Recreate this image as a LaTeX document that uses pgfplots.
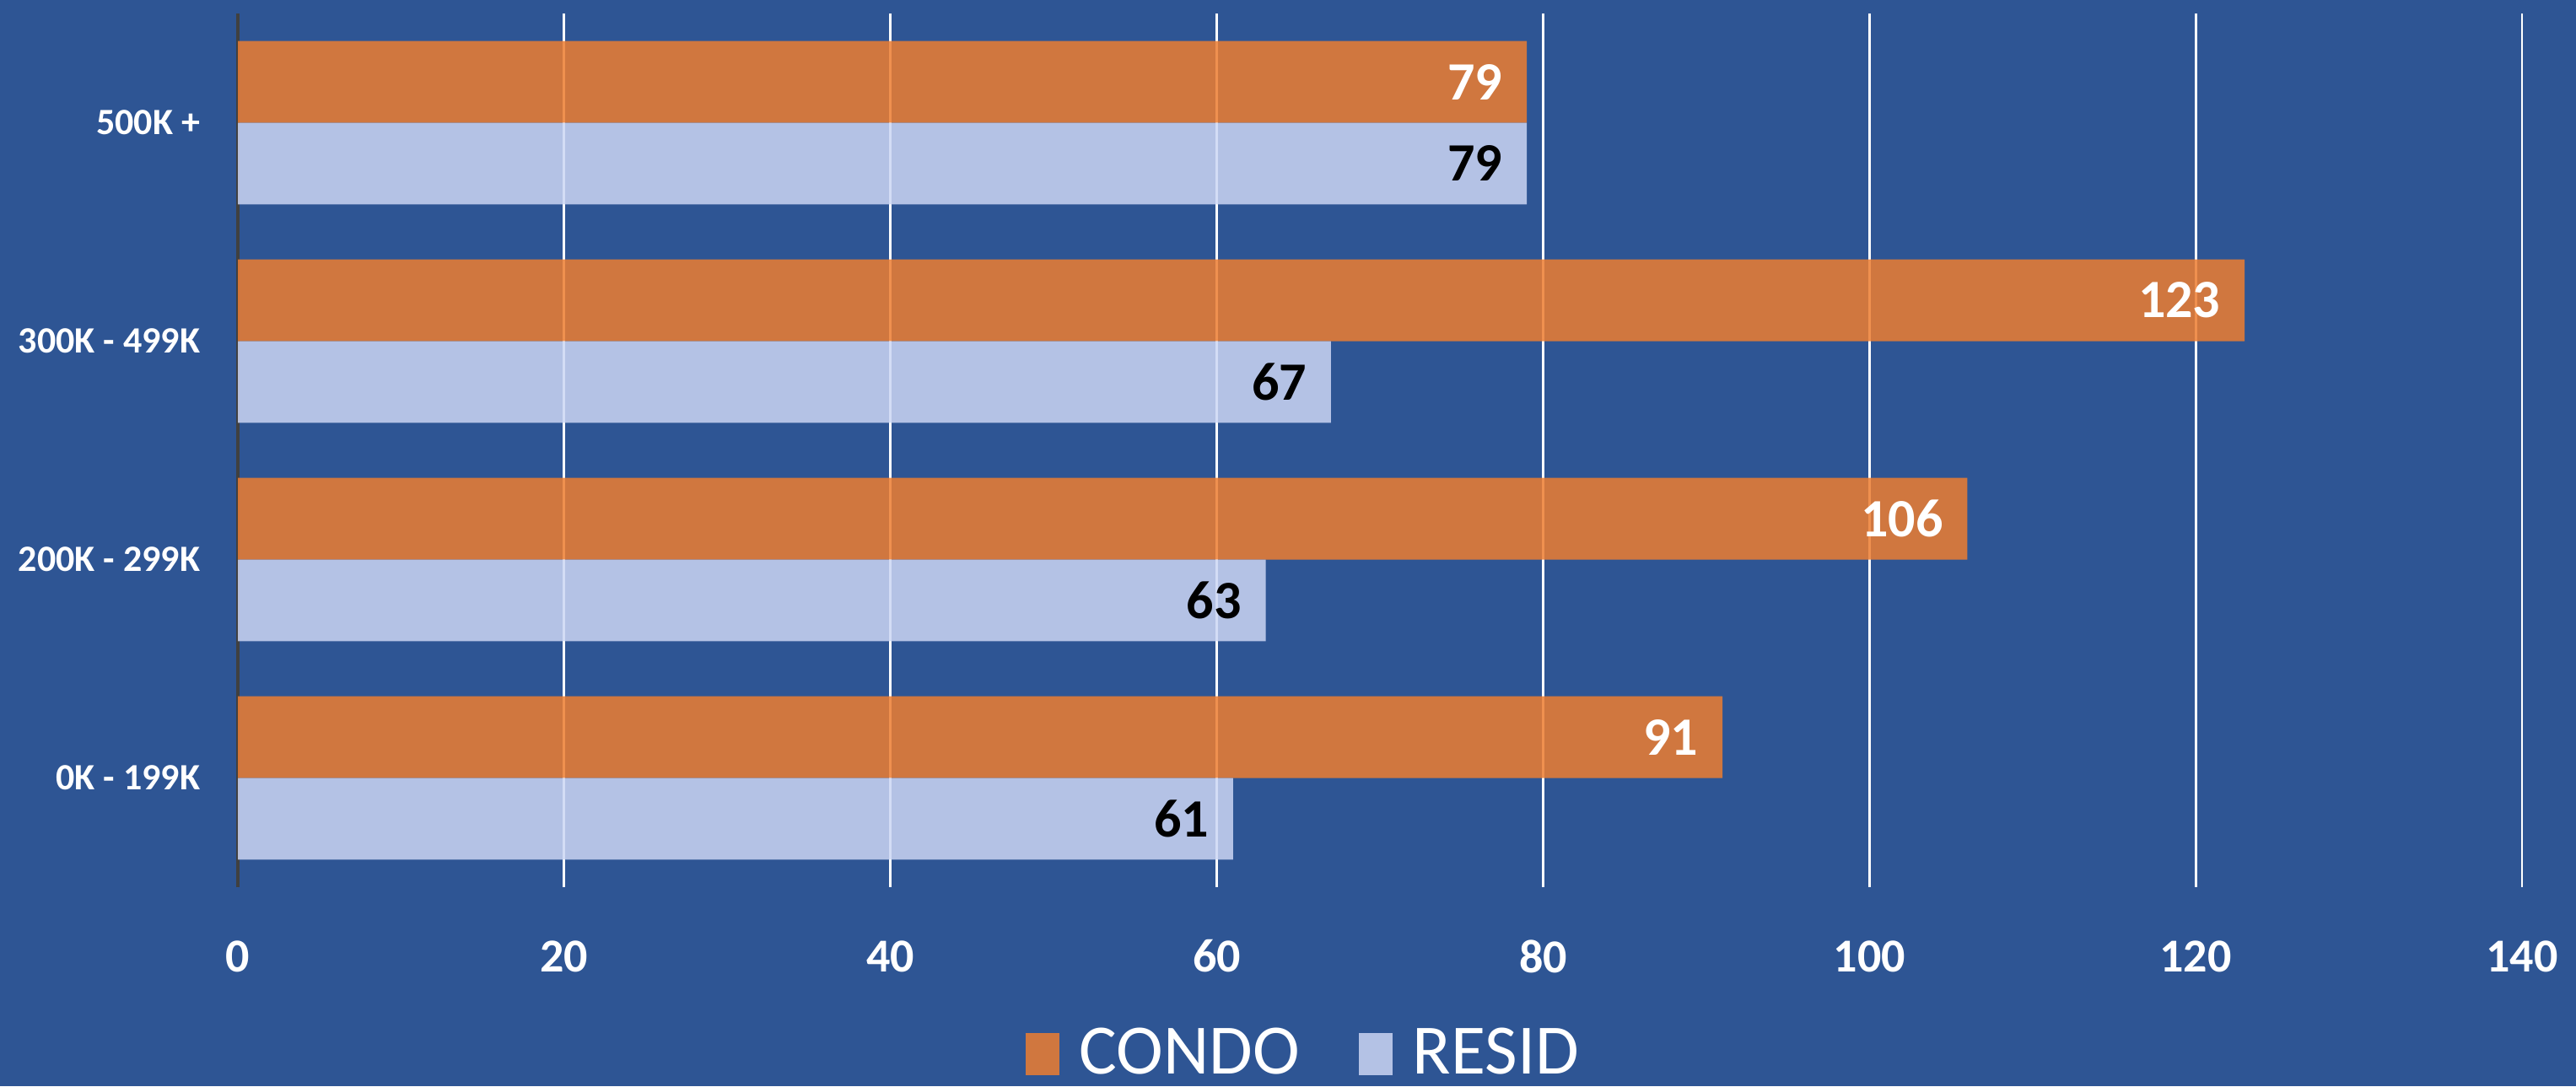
\documentclass[border=0pt]{standalone}
\usepackage{fontspec}
\setmainfont{Carlito}
\usepackage{pgfplots}
\pgfplotsset{compat=1.18}
\definecolor{bg}{HTML}{2E5594}
\definecolor{condo}{HTML}{ED7D31}
\definecolor{resid}{HTML}{CCD6F4}
\definecolor{axgray}{HTML}{404040}
\begin{document}
\begin{tikzpicture}
\useasboundingbox (0,0) rectangle (763.5pt,322pt);
\fill[bg] (0,0) rectangle (763.5pt,322pt);
\begin{axis}[
 at={(70.5pt,59pt)}, anchor=south west,
 scale only axis, width=677pt, height=259pt,
 xbar, xmin=0, xmax=140, ymin=-0.5, ymax=3.5,
 xtick={0,20,...,140}, ytick={0,1,2,3},
 yticklabels={0K - 199K, 200K - 299K, 300K - 499K, 500K +},
 bar width=0.374,
 major tick length=0pt,
 xmajorgrids, grid style={white, line width=0.7pt},
 axis x line*=bottom, x axis line style={draw=none},
 axis y line*=left, y axis line style={draw=axgray, line width=0.9pt, -},
 /pgf/number format/assume math mode=true,
 x tick label style={font=\fontsize{14}{16}\selectfont\bfseries, text=white, anchor=center, yshift=-20.5pt},
 y tick label style={font=\fontsize{11}{13}\selectfont\bfseries, text=white, anchor=east, inner sep=0pt, xshift=-11pt},
 legend style={at={(0.466,-0.19)}, anchor=center, draw=none, fill=none, text=white, inner sep=0pt,
   nodes={inner sep=0pt}, font=\fontsize{21}{24}\selectfont, legend columns=2,
   /tikz/every odd column/.append style={column sep=6pt},
   /tikz/every even column/.append style={column sep=17.5pt}},
 legend image code/.code={\fill[#1] (0pt,-6.5pt) rectangle (10pt,6pt);},
 nodes near coords,
 every node near coord/.append style={anchor=east, xshift=-7pt, inner sep=0pt, text opacity=1, font=\fontsize{16}{18}\selectfont\bfseries},
]
\addplot[fill=condo, draw=none, fill opacity=0.85, bar shift=0.187, every node near coord/.append style={text=white}]
  coordinates {(91,0) (106,1) (123,2) (79,3)};
\addlegendentry{CONDO}
\addplot[fill=resid, draw=none, fill opacity=0.85, bar shift=-0.187, every node near coord/.append style={text=black}]
  coordinates {(61,0) (63,1) (67,2) (79,3)};
\addlegendentry{RESID}
\end{axis}
\end{tikzpicture}
\end{document}
